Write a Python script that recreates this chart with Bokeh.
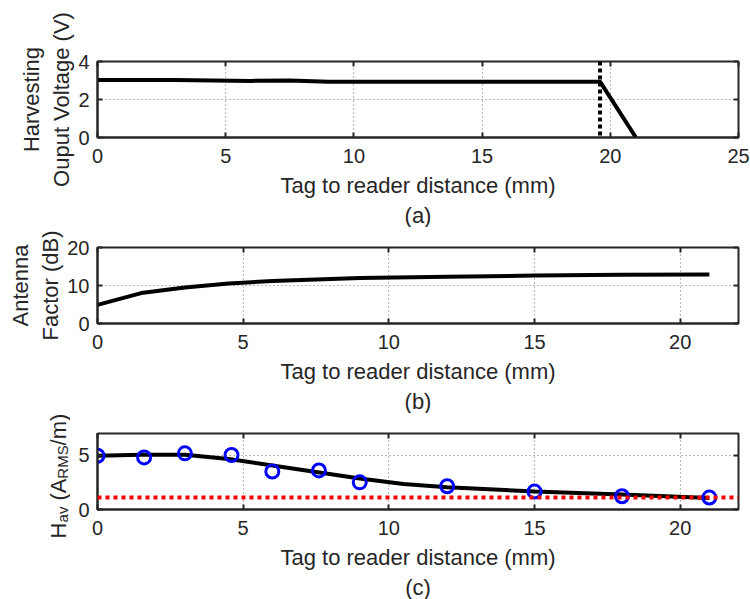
from bokeh.embed import file_html
from bokeh.layouts import column, row
from bokeh.models import FixedTicker, LinearAxis, Range1d, Spacer, Span, Title
from bokeh.plotting import figure
from bokeh.resources import INLINE

# (a) harvesting output voltage vs. distance
dist_a = [0, 3, 6, 7.5, 9, 12, 15, 18, 19.6, 21]
volt_a = [3.02, 3.02, 2.98, 3.0, 2.94, 2.93, 2.94, 2.94, 2.94, 0]
cutoff_a = 19.6

# (b) antenna factor vs. distance
dist_b = [0, 1.5, 3, 4.5, 6, 7.5, 9, 12, 15, 18, 21]
af_b = [4.9, 8.0, 9.5, 10.5, 11.2, 11.6, 12.0, 12.3, 12.6, 12.8, 12.9]

# (c) average field strength: fitted curve, measurements, threshold
dist_c_fit = [0, 1.5, 3, 4.5, 6, 7.5, 9, 10.5, 12, 15, 18, 21]
h_fit = [4.95, 5.05, 5.05, 4.65, 4.05, 3.45, 2.85, 2.35, 2.05, 1.65, 1.38, 1.07]
dist_c_meas = [0, 1.6, 3, 4.6, 6, 7.6, 9, 12, 15, 18, 21]
h_meas = [4.95, 4.8, 5.17, 5.02, 3.5, 3.6, 2.5, 2.14, 1.65, 1.22, 1.1]
h_threshold = 1.1

x_ticks_a = [0, 5, 10, 15, 20, 25]
x_ticks_bc = [0, 5, 10, 15, 20]
y_ticks_a = [0, 2, 4]
y_ticks_b = [0, 10, 20]
y_ticks_c = [0, 5]

FONT = "Liberation Sans"
INK = "#262626"
GRID = "#707070"
X_LABEL = "Tag to reader distance (mm)"


def style_axis(ax, ticks):
    ax.ticker = FixedTicker(ticks=ticks)
    ax.major_tick_in = 5
    ax.major_tick_out = 0
    ax.minor_tick_line_color = None
    ax.major_tick_line_color = INK
    ax.major_tick_line_width = 2
    ax.axis_line_color = INK
    ax.axis_line_width = 2
    ax.major_label_text_font = FONT
    ax.major_label_text_font_size = "20px"
    ax.major_label_text_color = INK
    ax.axis_label_text_font = FONT
    ax.axis_label_text_font_size = "22px"
    ax.axis_label_text_font_style = "normal"
    ax.axis_label_text_color = INK


def mirror_axis(ticks):
    return LinearAxis(
        ticker=FixedTicker(ticks=ticks),
        major_label_overrides={t: "" for t in ticks},
        major_label_text_font_size="1px",
        major_label_standoff=0,
        axis_line_color=None,
        major_tick_in=5,
        major_tick_out=0,
        minor_tick_line_color=None,
        major_tick_line_color=INK,
        major_tick_line_width=2,
    )


def make_panel(width, height, left, top, bottom, x_end, y_end, xt, yt, tag, ylabel):
    p = figure(
        width=width, height=height,
        output_backend="svg", toolbar_location=None,
        x_range=Range1d(0, x_end), y_range=Range1d(0, y_end),
        min_border_left=left, min_border_right=12,
        min_border_top=top, min_border_bottom=bottom,
        x_axis_label=X_LABEL, y_axis_label=ylabel,
    )
    p.background_fill_color = "white"
    p.border_fill_color = "white"
    p.outline_line_color = INK
    p.outline_line_width = 2
    p.outline_line_alpha = 1.0
    style_axis(p.xaxis[0], xt)
    style_axis(p.yaxis[0], yt)
    p.xaxis[0].major_label_standoff = 11
    p.xaxis[0].axis_label_standoff = 7
    p.yaxis[0].major_label_standoff = 8
    p.yaxis[0].axis_label_standoff = 1
    p.add_layout(mirror_axis(xt), "above")
    p.add_layout(mirror_axis(yt), "right")
    p.grid.grid_line_color = GRID
    p.grid.grid_line_width = 1
    p.grid.grid_line_dash = "1 3"
    p.add_layout(
        Title(text=tag, align="center", text_font=FONT, text_font_size="22px",
              text_font_style="normal", text_color=INK, standoff=0),
        "below",
    )
    return p


# --- (a) ---
pa = make_panel(750, 227, 97, 61, 89, 25, 4, x_ticks_a, y_ticks_a, "(a)",
                "Harvesting\nOuput Voltage (V)")
pa.line(dist_a, volt_a, line_color="black", line_width=4)
pa.add_layout(Span(location=cutoff_a, dimension="height", line_color="black",
                   line_width=4, line_dash="4 3"))

# --- (b) ---
pb = make_panel(750, 186, 97, 20, 90, 22, 20, x_ticks_bc, y_ticks_b, "(b)",
                "Antenna\nFactor (dB)")
pb.line(dist_b, af_b, line_color="black", line_width=4)

# --- (c) ---
LABEL_W = 70
PANEL_H = 186
pc = make_panel(750 - LABEL_W, PANEL_H, 97 - LABEL_W, 20, 90, 22, 7, x_ticks_bc,
                y_ticks_c, "(c)", None)
pc.add_layout(Span(location=h_threshold, dimension="width", line_color="#ff0000",
                   line_width=4, line_dash="4 4"))
pc.line(dist_c_fit, h_fit, line_color="black", line_width=4)
pc.scatter(dist_c_meas, h_meas, marker="circle", size=13, fill_color=None,
           line_color="#0000ff", line_width=3)


# y label of (c), "H_av (A_RMS/m)": each piece is the vertical axis label of a
# slim strip, stacked so that the pieces follow one another upwards
ADV = {"H": 722, "a": 556, "v": 500, " ": 278, "(": 333, "A": 667, "R": 722,
       "M": 833, "S": 667, "/": 278, "m": 833, ")": 333}
# (text, font size, baseline x); None marks a word space of the main font
pieces = [("H", 22, 58), ("av", 15, 68), None, ("(A", 22, 58), ("RMS", 15, 68),
          ("/m)", 22, 58)]


def label_piece(txt, fs, base_x, h):
    f = figure(width=LABEL_W, height=h, output_backend="svg", toolbar_location=None,
               title=None, x_range=Range1d(0, 1), y_range=Range1d(0, 1),
               x_axis_type=None,
               min_border_left=base_x + round(0.21 * fs), min_border_right=0,
               min_border_top=0, min_border_bottom=0)
    f.outline_line_color = None
    f.grid.visible = False
    f.background_fill_color = "white"
    f.border_fill_color = "white"
    ax = f.yaxis[0]
    ax.ticker = FixedTicker(ticks=[])
    ax.axis_line_color = None
    ax.major_tick_line_color = None
    ax.minor_tick_line_color = None
    ax.major_tick_in = 0
    ax.major_tick_out = 0
    ax.major_label_standoff = 0
    ax.axis_label = txt
    ax.axis_label_standoff = 0
    ax.axis_label_text_font = FONT
    ax.axis_label_text_font_size = f"{fs}px"
    ax.axis_label_text_font_style = "normal"
    ax.axis_label_text_color = INK
    return f


def piece_height(pc_):
    if pc_ is None:
        return round(ADV[" "] * 22 / 1000)
    txt, fs, _ = pc_
    return round(sum(ADV[ch] for ch in txt) * fs / 1000)


heights = [piece_height(pc_) for pc_ in pieces]
frame_mid = 20 + 76 / 2                      # middle of the (c) frame, from the top
top_gap = max(0, round(frame_mid - sum(heights) / 2))
strip = [Spacer(width=LABEL_W, height=top_gap)] if top_gap else []
for pc_, h in reversed(list(zip(pieces, heights))):
    if pc_ is None:
        strip.append(Spacer(width=LABEL_W, height=h))
    else:
        txt, fs, bx = pc_
        strip.append(label_piece(txt, fs, bx, h))
strip.append(Spacer(width=LABEL_W, height=PANEL_H - top_gap - sum(heights)))
label_col = column(*strip, spacing=0)

layout = column(pa, pb, row(label_col, pc, spacing=0), spacing=0)
open("out.html", "w").write(file_html(layout, INLINE))
